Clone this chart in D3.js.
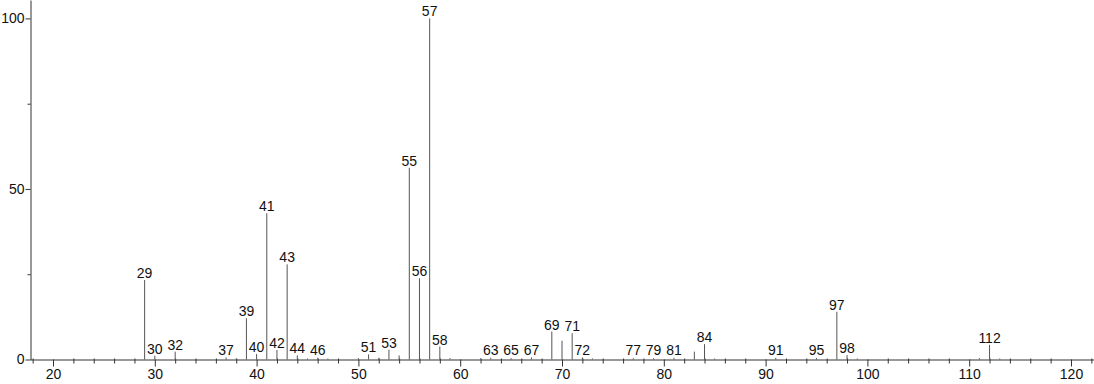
<!DOCTYPE html>
<html>
<head>
<meta charset="utf-8">
<script src="https://cdn.jsdelivr.net/npm/d3@7"></script>
<style>
  body { margin: 0; background: #fff; }
  svg { display: block; font-family: "Liberation Sans", Arial, sans-serif; }
</style>
</head>
<body>
<svg id="spectrum" width="1094" height="384"></svg>
<script>
// m/z values and relative intensities
const mz =        [29,   30,  32,  37,  38,  39,   40,  41,   42,  43,   44,  45,  46,  47,  50,  51,  52,  53,  54,  55,   56,   57,  58,  59,  62,  63,  65,  67,  69,  70,  71,  72,  73,  77,  79,  81,  83,  84,  85,  91,  95,  97,   98,  99,  111, 112, 113];
const intensity = [23.3, 1.1, 2.3, 0.6, 0.3, 12.1, 1.6, 42.9, 2.8, 27.9, 1.2, 0.3, 0.5, 0.3, 0.4, 1.5, 0.5, 2.9, 1.2, 56.2, 23.8, 100, 3.8, 0.4, 0.3, 0.5, 0.4, 0.6, 8.2, 5.5, 7.7, 0.6, 0.3, 0.4, 0.4, 0.5, 2.3, 4.5, 0.3, 0.5, 0.4, 14.0, 1.3, 0.3, 0.4, 4.3, 0.3];
const labeled = [29, 30, 32, 37, 39, 40, 41, 42, 43, 44, 46, 51, 53, 55, 56, 57, 58, 63, 65, 67, 69, 71, 72, 77, 79, 81, 84, 91, 95, 97, 98, 112];
const xMajor = [20, 30, 40, 50, 60, 70, 80, 90, 100, 110, 120];
const yMajor = [0, 50, 100];
const yMinor = [25, 75];

const svg = d3.select("#spectrum");

const x = d3.scaleLinear()
    .domain([17.74, 122.26])
    .range([30, 1094]);

const y = d3.scaleLinear()
    .domain([0, 105.4])
    .range([359.5, 0]);

const peaks = mz.map((m, i) => ({mz: m, v: intensity[i]}));

// minor x ticks every 2
const xMinor = d3.range(18, 123, 2).filter(d => xMajor.indexOf(d) < 0);
svg.append("g")
    .attr("transform", "translate(0,359.5)")
    .call(d3.axisBottom(x).tickValues(xMinor).tickSize(4).tickFormat(""))
    .call(g => g.select(".domain").remove())
    .call(g => g.selectAll("line").attr("stroke", "#333").attr("y1", -1));

const xAxis = svg.append("g")
    .attr("transform", "translate(0,359.5)")
    .call(d3.axisBottom(x).tickValues(xMajor).tickSize(7).tickSizeOuter(0).tickPadding(3));
xAxis.select(".domain").attr("stroke", "#333");
xAxis.selectAll("line").attr("stroke", "#333");
xAxis.selectAll("text").attr("font-size", 14).attr("fill", "#111")
    .attr("font-family", "Liberation Sans, Arial, sans-serif");

// y axis
svg.append("g")
    .attr("transform", "translate(30.5,0)")
    .call(d3.axisLeft(y).tickValues(yMinor).tickSize(3).tickFormat(""))
    .call(g => g.select(".domain").remove())
    .call(g => g.selectAll("line").attr("stroke", "#333"));

const yAxis = svg.append("g")
    .attr("transform", "translate(30.5,0)")
    .call(d3.axisLeft(y).tickValues(yMajor).tickSize(5).tickSizeOuter(0).tickPadding(1));
yAxis.select(".domain").attr("stroke", "#333");
yAxis.selectAll("line").attr("stroke", "#333");
yAxis.selectAll("text").attr("font-size", 14).attr("fill", "#111")
    .attr("font-family", "Liberation Sans, Arial, sans-serif");

// peaks
svg.append("g")
    .selectAll("line")
    .data(peaks)
    .join("line")
      .attr("x1", d => x(d.mz))
      .attr("x2", d => x(d.mz))
      .attr("y1", y(0))
      .attr("y2", d => y(d.v))
      .attr("stroke", "#555")
      .attr("stroke-width", 1);

// peak labels
svg.append("g")
    .attr("font-size", 14)
    .attr("text-anchor", "middle")
    .attr("fill", "#111")
    .selectAll("text")
    .data(peaks.filter(d => labeled.indexOf(d.mz) >= 0))
    .join("text")
      .attr("x", d => x(d.mz))
      .attr("y", d => Math.min(y(d.v), 357) - 2)
      .text(d => d.mz);
</script>
</body>
</html>
